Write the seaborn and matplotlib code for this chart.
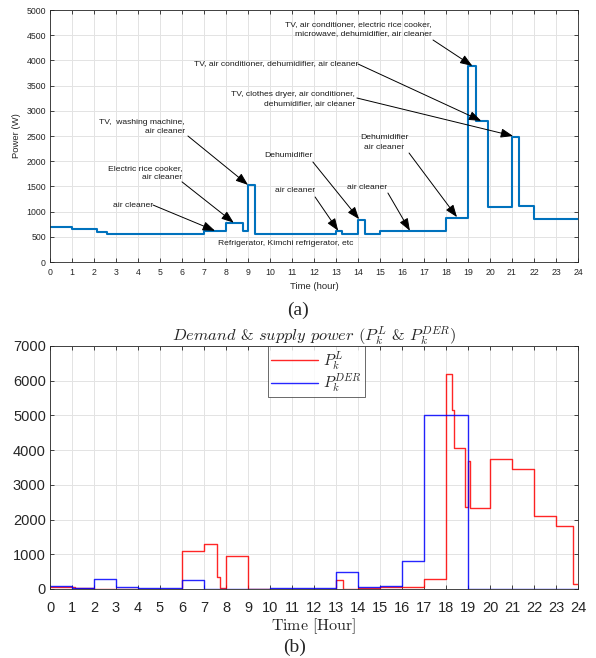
import seaborn as sns
import matplotlib.pyplot as plt
import pandas as pd

# (a) household load profile, step values [W]
load_hour = [0, 1, 2.15, 2.6, 7, 8, 8.75, 9, 9.3, 13, 13.25, 14, 14.3, 15,
             18, 19, 19.35, 19.9, 21, 21.3, 22, 24]
load_power = [700, 650, 600, 560, 610, 770, 610, 1520, 560, 610, 560, 840,
              560, 610, 880, 3880, 2790, 1090, 2490, 1120, 850, 850]

# (b) demand P_k^L and supply P_k^DER
demand_hour = [0, 1.14, 2, 6, 7, 7.58, 7.74, 8, 9, 13, 13.3, 14, 15, 17, 18,
               18.26, 18.35, 18.86, 19.02, 19.1, 20, 21, 22, 23, 23.76, 24]
demand_power = [70, 37, 0, 1100, 1310, 350, 30, 950, 5, 260, 0, 35, 55, 300,
                6200, 5150, 4050, 2350, 3700, 2330, 3730, 3450, 2100, 1800,
                130, 130]
der_hour = [0, 1, 2, 3, 4, 6, 7, 10, 12, 13, 14, 15, 16, 17, 19, 24]
der_power = [100, 20, 290, 50, 20, 250, 0, 20, 30, 500, 50, 80, 800, 5000, 0, 0]

# annotations on (a): text, text pos, ha, arrow start, arrow tip
notes = [
    ("air cleaner", (3.77, 1131), 'center', (4.68, 1131), (7.5, 620)),
    ("Electric rice cooker,\nair cleaner", (6.0, 1766), 'right', (6.0, 1590), (8.35, 780)),
    ("TV,  washing machine,\nair cleaner", (6.14, 2678), 'right', (6.27, 2500), (9.0, 1530)),
    ("Refrigerator, Kimchi refrigerator, etc", (10.73, 377), 'center', None, None),
    ("air cleaner", (11.15, 1409), 'center', (12.05, 1290), (13.1, 620)),
    ("Dehumidifier", (10.84, 2123), 'center', (11.95, 1984), (14.05, 850)),
    ("air cleaner", (14.4, 1488), 'center', (15.36, 1369), (16.36, 620)),
    ("Dehumidifier\nair cleaner", (15.2, 2371), 'center', (16.32, 2163), (18.5, 890)),
    ("TV, clothes dryer, air conditioner,\ndehumidifier, air cleaner", (13.86, 3234), 'right',
     (13.95, 3254), (21.05, 2500)),
    ("TV, air conditioner, dehumidifier, air cleaner", (10.3, 3929), 'center',
     (14.0, 3929), (19.6, 2800)),
    ("TV, air conditioner, electric rice cooker,\nmicrowave, dehumidifier, air cleaner",
     (17.36, 4623), 'right', (17.41, 4405), (19.2, 3890)),
]

sns.set_style("ticks")
plt.rcParams['font.family'] = ['Liberation Sans', 'DejaVu Sans']
plt.rcParams['mathtext.fontset'] = 'cm'

fig = plt.figure(figsize=(5.96, 6.58), dpi=100)
ax1 = fig.add_axes([0.0839, 0.6018, 0.8859, 0.3830])
ax2 = fig.add_axes([0.0839, 0.1049, 0.8859, 0.3693])

grid_kw = dict(color='#e3e3e3', linewidth=0.7)


def style_axes(ax, ymax, ystep, fs, xpad):
  ax.set_xlim(0, 24)
  ax.set_ylim(0, ymax)
  ax.set_xticks(range(0, 25))
  ax.set_yticks(range(0, ymax + 1, ystep))
  ax.grid(True, **grid_kw)
  ax.set_axisbelow(True)
  ax.tick_params(direction='in', top=True, right=True, length=3,
                 width=0.6, labelsize=fs, colors='#262626', pad=3)
  ax.tick_params(axis='x', pad=xpad)
  for s in ax.spines.values():
    s.set_color('#262626')
    s.set_linewidth(0.6)


# ---- (a)
df_a = pd.DataFrame({'hour': load_hour, 'power': load_power})
sns.lineplot(data=df_a, x='hour', y='power', ax=ax1, drawstyle='steps-post',
             color='#0072BD', linewidth=1.5, estimator=None, sort=False)
style_axes(ax1, 5000, 500, 6.3, 4)
ax1.set_xlabel('Time (hour)', fontsize=6.8, color='#262626', labelpad=4)
ax1.set_ylabel('Power (W)', fontsize=6.8, color='#262626', labelpad=4)

for txt, pos, ha, start, tip in notes:
  ax1.text(pos[0], pos[1], txt, ha=ha, va='center', fontsize=6.1,
           multialignment=ha, linespacing=1.45, color='#1a1a1a')
  if start is not None:
    ax1.annotate('', xy=tip, xytext=start,
                 arrowprops=dict(arrowstyle='-|>,head_length=0.75,head_width=0.28',
                                 color='black', lw=0.7, shrinkA=0, shrinkB=0,
                                 mutation_scale=10))

# ---- (b)
df_l = pd.DataFrame({'hour': demand_hour, 'power': demand_power})
df_d = pd.DataFrame({'hour': der_hour, 'power': der_power})
sns.lineplot(data=df_l, x='hour', y='power', ax=ax2, drawstyle='steps-post',
             color='#ff0000', linewidth=1.0, estimator=None, sort=False,
             label=r'$P_k^L$', alpha=0.85)
sns.lineplot(data=df_d, x='hour', y='power', ax=ax2, drawstyle='steps-post',
             color='#0000ff', linewidth=1.0, estimator=None, sort=False,
             label=r'$P_k^{DER}$', alpha=0.85)
style_axes(ax2, 7000, 1000, 10.5, 8.5)
ax2.set_title(r'$Demand$ & $supply$ $power$ ($P_k^L$ & $P_k^{DER}$)',
              fontsize=11.8, pad=4, family='cmr10')
ax2.set_xlabel(r'$\mathrm{Time\ [Hour]}$', fontsize=11.5, labelpad=1)
ax2.set_ylabel(r'$\mathrm{Power\ [W]}$', fontsize=11.5, color='#555555')
ax2.yaxis.set_label_coords(-0.103, 0.5)
leg = ax2.legend(loc='upper left', bbox_to_anchor=(0.413, 1.0), borderaxespad=0,
                 fontsize=11, frameon=True, fancybox=False, handlelength=3.1,
                 labelspacing=0.0, borderpad=0.2, handletextpad=0.3)
leg.get_frame().set_edgecolor('#262626')
leg.get_frame().set_linewidth(0.6)

fig.text(0.5, 1 - 310 / 658, '(a)', fontsize=14, family='Liberation Serif',
         ha='center', va='center')
fig.text(0.495, 1 - 647 / 658, '(b)', fontsize=14, family='Liberation Serif',
         ha='center', va='center')

fig.savefig('out.png', dpi=100)
